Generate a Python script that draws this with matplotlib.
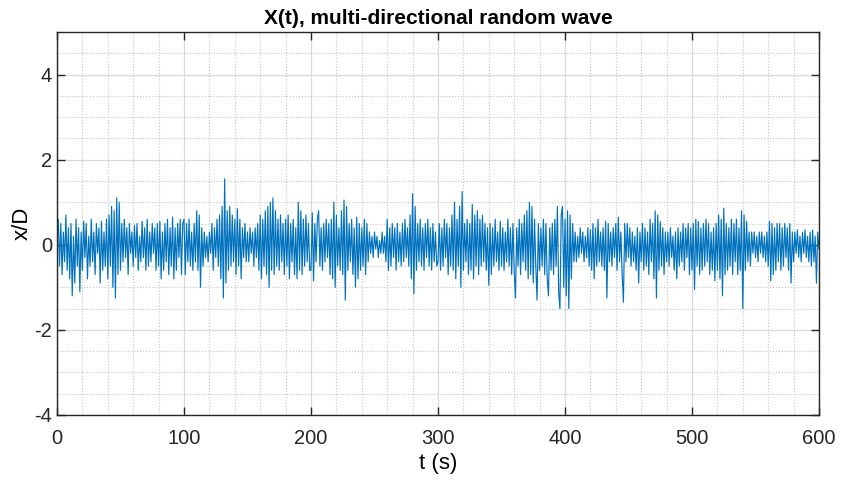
import numpy as np
import matplotlib
matplotlib.use('Agg')
import matplotlib.pyplot as plt
from matplotlib.ticker import MultipleLocator

# x/D response, values read every 1 s from the reference (0..600 s)
x_0_100 = [
    0.1, 0.6, -0.5, 0.5, -0.7, 0.3, -0.4, 0.7, -0.6, 0.4,
    -0.8, 0.5, -1.2, 0.2, -0.9, 0.6, -0.5, 0.4, -1.1, 0.3,
    -0.6, 0.55, -0.3, 0.5, -0.8, 0.2, -0.5, 0.6, -0.4, 0.3,
    -0.7, 0.5, -0.2, 0.4, -0.9, 0.55, -0.6, 0.3, -0.5, 0.6,
    -0.8, 0.7, -0.5, 0.9, -1.0, 0.8, -1.25, 1.1, -0.7, 1.0,
    -0.6, 0.5, -0.4, 0.6, -0.3, 0.4, -0.7, 0.5, -0.2, 0.3,
    -0.5, 0.45, -0.3, 0.5, -0.6, 0.2, -0.4, 0.55, -0.3, 0.4,
    -0.6, 0.6, -0.5, 0.3, -0.4, 0.5, -0.2, 0.4, -0.6, 0.5,
    -0.5, 0.55, -0.8, 0.3, -0.6, 0.5, -0.4, 0.6, -0.7, 0.4,
    -0.5, 0.65, -0.8, 0.4, -0.6, 0.5, -0.3, 0.6, -0.7, 0.5,
]
x_100_200 = [
    0.6, -0.7, 0.5, -0.4, 0.6, -0.5, 0.3, -0.6, 0.5, -0.4,
    0.8, -0.6, 0.7, -1.0, 0.4, -0.5, 0.3, -0.3, 0.2, -0.4,
    0.3, -0.2, 0.5, -0.6, 0.4, -0.3, 0.6, -0.5, 0.7, -0.8,
    0.9, -1.25, 1.55, -0.9, 0.8, -0.6, 0.9, -0.5, 0.7, -0.4,
    0.6, -0.7, 0.85, -0.5, 0.6, -0.8, 0.4, -0.3, 0.5, -0.4,
    0.3, -0.4, 0.4, -0.2, 0.3, -0.5, 0.4, -0.3, 0.5, -0.6,
    0.7, -0.8, 0.6, -0.5, 0.8, -0.7, 0.9, -1.0, 1.0, -0.6,
    1.1, -0.7, 0.8, -0.5, 0.6, -0.6, 0.7, -0.4, 0.5, -0.7,
    0.6, -0.5, 0.7, -0.8, 0.5, -0.4, 0.6, -0.7, 0.4, -0.8,
    1.0, -0.6, 0.8, -0.7, 0.6, -0.5, 0.7, -0.4, 0.5, -0.6,
]
x_200_300 = [
    -0.6, 0.75, -0.85, 0.5, -0.4, 0.6, 0.8, -0.5, 0.4, -0.6,
    0.5, -0.4, 0.6, -0.3, 0.5, -0.7, 0.6, -0.8, 1.0, -1.0,
    0.7, -0.5, 0.4, -0.6, 0.8, -0.7, 1.05, -1.3, 0.9, -0.6,
    0.5, -0.4, 0.6, -0.7, 0.4, -1.0, 0.65, -0.8, 0.5, -0.6,
    0.4, -0.5, 0.6, -0.7, 0.5, -0.4, 0.3, -0.2, 0.2, -0.3,
    0.3, -0.1, 0.2, -0.3, 0.1, -0.2, 0.3, -0.2, 0.2, -0.4,
    0.6, -0.6, 0.4, -0.5, 0.5, -0.3, 0.4, -0.6, 0.5, -0.4,
    0.3, -0.5, 0.5, -0.4, 0.6, -0.3, 0.4, -0.5, 0.7, -0.8,
    1.2, -1.15, 0.9, -0.6, 0.5, -0.4, 0.6, -0.5, 0.4, -0.6,
    0.5, -0.3, 0.6, -0.5, 0.4, -0.6, 0.5, -0.4, 0.3, -0.5,
]
x_300_400 = [
    -0.4, 0.5, -0.6, 0.4, -0.5, 0.6, -0.3, 0.5, -0.7, 0.4,
    -0.5, 0.7, -0.6, 1.0, -0.8, 0.6, -0.5, 0.9, -1.0, 1.25,
    -0.6, 0.5, -0.4, 0.6, -0.7, 0.5, -0.6, 0.95, -0.8, 0.7,
    -0.5, 0.8, -0.7, 0.6, -0.5, 0.7, -0.4, 0.5, -0.6, 0.4,
    -0.95, 0.5, -0.7, 0.4, -0.5, 0.6, -0.4, 0.3, -0.6, 0.55,
    -0.5, 0.4, -0.6, 0.3, -0.4, 0.6, -0.5, 0.4, -0.7, 0.5,
    -0.6, -1.25, 0.4, -0.5, 0.6, -0.7, 0.5, -0.4, 0.7, -0.6,
    0.8, -0.8, 1.0, -0.7, 0.9, -0.9, 0.6, -0.5, -1.3, 0.5,
    -0.6, 0.4, -0.5, 0.6, -0.7, 0.5, -0.8, -1.2, 0.4, -0.6,
    0.5, -0.7, 0.6, -0.5, 0.9, -1.1, -1.5, 0.7, 0.9, -1.0,
]
x_400_500 = [
    0.6, -1.2, 0.8, -1.5, 0.7, -0.8, 0.5, -0.4, 0.3, -0.4,
    0.2, -0.3, 0.4, -0.2, 0.3, -0.4, 0.2, -0.3, 0.4, -0.5,
    0.35, -0.6, 0.5, -0.8, 0.4, -0.5, 0.6, -0.4, 0.3, -0.5,
    0.4, -0.6, 0.55, -1.25, 0.5, -0.4, 0.3, -0.5, 0.4, -0.3,
    0.5, -0.6, 0.65, -0.4, 0.3, -0.7, -1.35, 0.5, -0.4, 0.5,
    -0.3, 0.4, -0.5, 0.3, -0.4, 0.2, -0.6, 0.4, -0.9, 0.3,
    -0.4, 0.5, -0.6, 0.4, -0.5, 0.3, -0.7, 0.6, -0.4, 0.5,
    -0.8, 0.8, -1.25, 0.7, -0.6, 0.55, -0.5, 0.4, -0.7, 0.3,
    -0.4, 0.3, -0.5, 0.4, -0.3, 0.2, -0.6, 0.3, -0.8, 0.4,
    -0.5, 0.3, -0.4, 0.5, -0.6, 0.4, -0.3, 0.5, -0.7, 0.4,
]
x_500_600 = [
    -0.6, 0.5, -1.05, 0.6, -0.5, 0.55, -0.7, 0.4, -0.6, 0.5,
    -0.5, 0.6, -0.4, 0.5, -0.7, 0.3, -0.6, 0.4, -0.85, 0.5,
    -0.6, 0.7, -0.8, 0.6, -1.2, 0.86, -0.7, 0.5, -0.6, 0.4,
    -0.5, 0.6, -0.7, 0.5, -0.4, 0.6, -0.7, 0.4, -0.6, 0.8,
    -1.5, 0.7, -0.6, 0.55, -0.4, 0.3, -0.5, 0.3, -0.2, 0.3,
    -0.3, 0.2, -0.4, 0.3, -0.2, 0.3, -0.3, 0.2, -0.4, 0.3,
    -0.5, 0.55, -0.85, 0.5, -0.7, 0.4, -0.6, 0.5, -0.4, 0.5,
    -0.6, 0.4, -0.5, 0.5, -0.3, 0.4, -0.6, 0.5, -0.9, 0.3,
    -0.4, 0.3, -0.2, 0.35, -0.3, 0.2, -0.4, 0.3, -0.2, 0.35,
    -0.3, 0.2, -0.4, 0.3, -0.5, 0.35, -0.4, 0.2, -0.9, 0.3, -0.1,
]

xD = x_0_100 + x_100_200 + x_200_300 + x_300_400 + x_400_500 + x_500_600
t = np.arange(len(xD)) * 1.0

plt.rcParams['font.family'] = ['Liberation Sans', 'DejaVu Sans']
plt.rcParams['axes.unicode_minus'] = False

fig = plt.figure(figsize=(8.41, 4.84), dpi=100)
ax = fig.add_axes([57 / 841, 1 - 415 / 484, 762 / 841, 383 / 484])

ax.plot(t, xD, color='#0072BD', linewidth=0.85)

ax.set_xlim(0, 600)
ax.set_ylim(-4, 5)
ax.xaxis.set_major_locator(MultipleLocator(100))
ax.xaxis.set_minor_locator(MultipleLocator(20))
ax.yaxis.set_major_locator(MultipleLocator(2))
ax.yaxis.set_minor_locator(MultipleLocator(0.5))

ax.grid(which='major', color='#d9d9d9', linewidth=0.9, linestyle='-')
ax.grid(which='minor', color='#c4c4c4', linewidth=0.8, linestyle=':')
ax.set_axisbelow(True)

ax.tick_params(which='both', direction='in', top=True, right=True, labelsize=14.5, colors='#262626')
ax.tick_params(which='major', length=6, width=1.0)
ax.tick_params(which='minor', length=0)
ax.tick_params(axis='x', pad=10)
for s in ax.spines.values():
    s.set_color('#262626')
    s.set_linewidth(1.0)

ax.set_title('X(t), multi-directional random wave', fontsize=15, fontweight='bold', pad=6)
ax.set_xlabel('t (s)', fontsize=16, labelpad=4)
ax.set_ylabel('x/D', fontsize=16, labelpad=1)

fig.savefig('out.png', dpi=100)
